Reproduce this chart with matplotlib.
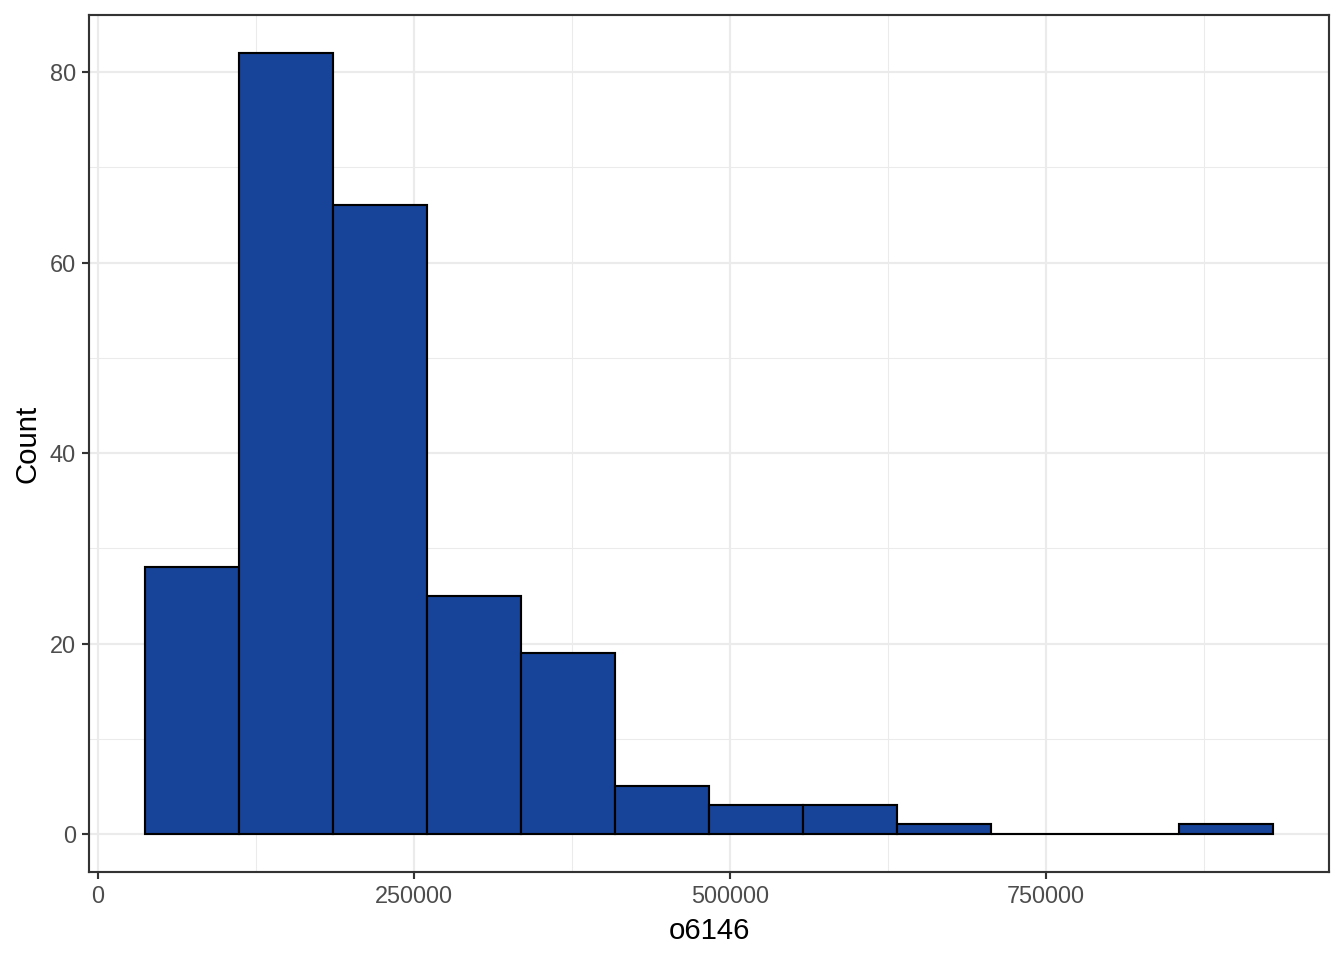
import matplotlib.pyplot as plt
import numpy as np

# Data -------------------------------------------------------------------

bin_start = 37200      # left edge of the first bin
bin_width = 74370      # width of every bin
counts = [28, 82, 66, 25, 19, 5, 3, 3, 1, 0, 0, 1]
x_ticks = [0, 250000, 500000, 750000]
y_ticks = [0, 20, 40, 60, 80]
x_label = "o6146"
y_label = "Count"

#-------------------------------------------------------------------------

plt.rcParams['font.family'] = ['Liberation Sans', 'DejaVu Sans']

fill = '#174499'
grid_major = '#EBEBEB'
frame = '#333333'

lefts = bin_start + bin_width * np.arange(len(counts))

fig = plt.figure(figsize=(7, 5), dpi=192)
ax = fig.add_axes([89 / 1344, 88 / 960, 1240 / 1344, 857 / 960])

ax.bar(lefts, counts, width=bin_width, align='edge', color=fill,
       edgecolor='black', linewidth=0.8, zorder=3)

ax.set_xlim(-7100, 973800)
ax.set_ylim(-3.99, 86.0)

ax.set_xticks(x_ticks)
ax.set_xticklabels([str(t) for t in x_ticks])
ax.set_yticks(y_ticks)
ax.set_xticks([125000, 375000, 625000, 875000], minor=True)
ax.set_yticks([10, 30, 50, 70], minor=True)

ax.grid(True, which='major', color=grid_major, linewidth=0.8, zorder=0)
ax.grid(True, which='minor', color=grid_major, linewidth=0.4, zorder=0)
ax.set_axisbelow(True)

ax.tick_params(which='major', length=2.75, width=0.8, color=frame,
               labelsize=8.8, labelcolor='#4D4D4D', pad=2.2)
ax.tick_params(which='minor', length=0)

for s in ax.spines.values():
    s.set_color(frame)
    s.set_linewidth(0.8)

ax.set_xlabel(x_label, fontsize=11, color='black', labelpad=3.2)
ax.set_ylabel(y_label, fontsize=11, color='black', labelpad=3)

plt.savefig('out.png', dpi=192)
